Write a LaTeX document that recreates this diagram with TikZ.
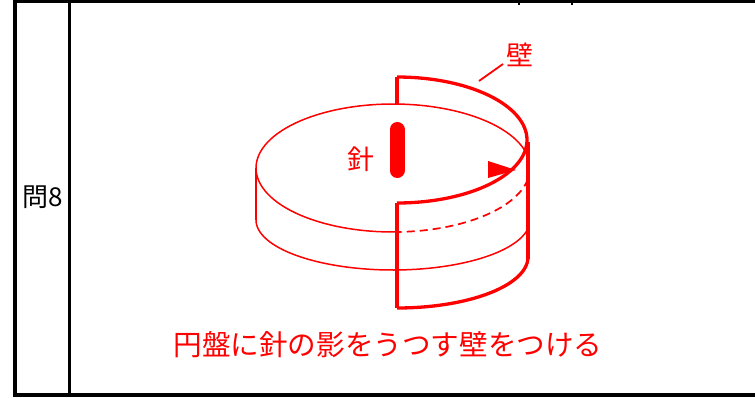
\documentclass[tikz,border=0pt]{standalone}
\usepackage{fontspec}
\setmainfont{Noto Sans CJK JP}
\begin{document}
\begin{tikzpicture}[x=1pt,y=-1pt,
  frame/.style={black,line width=3pt},
  thinred/.style={red,line width=1.5pt},
  wallline/.style={red,line width=3.3pt},
  hiddenline/.style={red,line width=1.7pt,dash pattern=on 8pt off 5pt},
  redlabel/.style={red,inner sep=0pt,font=\fontsize{27}{30}\selectfont},
  blacklabel/.style={black,inner sep=0pt,font=\fontsize{26}{30}\selectfont}]
\useasboundingbox (0,0) rectangle (755,397);
% table frame
\coordinate (tl) at (13,1.5);
\coordinate (tr) at (755,1.5);
\coordinate (bl) at (13,394.5);
\coordinate (br) at (755,394.5);
\draw[frame] (tl) -- (tr);
\draw[frame,line width=4pt] (bl) -- (br);
\coordinate (lt) at (15,0);
\coordinate (lb) at (15,396.5);
\draw[frame,line width=4.6pt] (lt) -- (lb);
\coordinate (it) at (69.7,0);
\coordinate (ib) at (69.7,393);
\draw[frame,line width=2.7pt] (it) -- (ib);
\coordinate (ta1) at (519,0);
\coordinate (tb1) at (519,5);
\coordinate (ta2) at (572,0);
\coordinate (tb2) at (572,5);
\draw[frame,line width=2.2pt] (ta1) -- (tb1);
\draw[frame,line width=2.2pt] (ta2) -- (tb2);
\node[blacklabel] (q) at (43,197) {問8};
% disk
\draw[thinred] plot[domain=88:352,samples=90] ({393+137*cos(\x)},{168+64*sin(\x)});
\draw[hiddenline] plot[domain=10:88,samples=40] ({393+137*cos(\x)},{168+64*sin(\x)});
\coordinate (dl1) at (256,168);
\coordinate (dl2) at (256,220);
\draw[thinred] (dl1) -- (dl2);
\draw[thinred] plot[domain=10:180,samples=80] ({393+137*cos(\x)},{220+50*sin(\x)});
% wall
\draw[wallline] plot[domain=-90:90,samples=90] ({397+130*cos(\x)},{140+63*sin(\x)});
\coordinate (wb1) at (397,77);
\coordinate (wb2) at (397,104);
\draw[wallline] (wb1) -- (wb2);
\coordinate (wf1) at (397,203);
\coordinate (wf2) at (397,308);
\draw[wallline] (wf1) -- (wf2);
\coordinate (wr1) at (528,142);
\coordinate (wr2) at (528,259);
\draw[wallline] (wr1) -- (wr2);
\draw[wallline] plot[domain=0:90,samples=60] ({397+131*cos(\x)},{257+51*sin(\x)});
% arrow head
\coordinate (ah1) at (488,161);
\coordinate (ah2) at (488,178);
\coordinate (ah3) at (516,170);
\fill[red] (ah1) -- (ah3) -- (ah2) -- cycle;
% needle
\coordinate (n1) at (397,129.5);
\coordinate (n2) at (397,170.5);
\draw[red,line width=15pt,line cap=round] (n1) -- (n2);
\node[redlabel] (needle) at (361,159) {針};
\node[redlabel] (walllabel) at (520,55) {壁};
\coordinate (la) at (479,81);
\coordinate (lbb) at (503,64);
\draw[red,line width=1.8pt] (la) -- (lbb);
\node[redlabel,font=\fontsize{28.6}{32}\selectfont] (caption) at (388,345) {円盤に針の影をうつす壁をつける};
\end{tikzpicture}
\end{document}
